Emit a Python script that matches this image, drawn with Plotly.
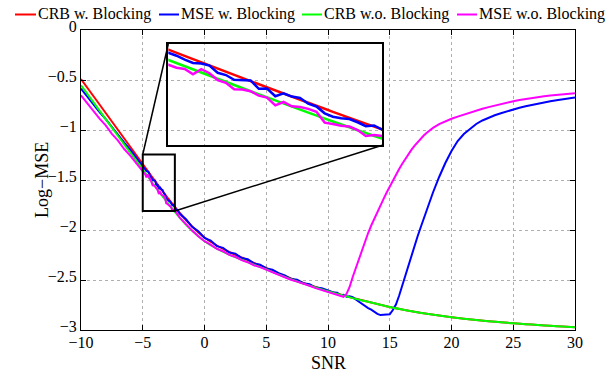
import numpy as np
import plotly.graph_objects as go

# ---------------- data ----------------
snr_crb = list(range(-10, 31))
crb_blocking = [-0.49, -0.66, -0.83, -1.00, -1.17, -1.34, -1.51, -1.675, -1.83, -1.965,
                -2.075, -2.155, -2.22, -2.275, -2.33, -2.38, -2.435, -2.485, -2.53, -2.57,
                -2.61, -2.645, -2.68, -2.71, -2.74, -2.77, -2.795, -2.818, -2.838, -2.856,
                -2.872, -2.887, -2.90, -2.912, -2.923, -2.933, -2.942, -2.95, -2.958, -2.965, -2.972]
crb_no_blocking = [-0.553, -0.722, -0.891, -1.06, -1.228, -1.396, -1.564, -1.727, -1.878, -2.008,
                   -2.112, -2.186, -2.246, -2.296, -2.347, -2.393, -2.445, -2.493, -2.536, -2.574,
                   -2.613, -2.647, -2.681, -2.71, -2.74, -2.77, -2.795, -2.818, -2.838, -2.856,
                   -2.872, -2.887, -2.90, -2.912, -2.923, -2.933, -2.942, -2.95, -2.958, -2.965, -2.972]

snr_mse = (list(np.round(np.arange(-10, -5.49, 0.5), 2)) +
           list(np.round(np.arange(-5.2, -2.19, 0.1), 2)) +
           list(np.round(np.arange(-2.0, 9.51, 0.5), 2)) +
           list(np.round(np.arange(10.0, 18.01, 0.25), 2)) +
           list(np.round(np.arange(18.5, 30.01, 0.5), 2)))

mse_blocking = [
    # -10 .. -5.5
    -0.586, -0.666, -0.737, -0.821, -0.892, -0.974, -1.045, -1.127, -1.198, -1.279,
    # -5.2 .. -2.2
    -1.326, -1.341, -1.358, -1.373, -1.394, -1.412, -1.415, -1.426, -1.465, -1.477,
    -1.503, -1.506, -1.506, -1.551, -1.550, -1.591, -1.576, -1.593, -1.600, -1.631,
    -1.646, -1.683, -1.701, -1.709, -1.714, -1.731, -1.752, -1.748, -1.773, -1.794, -1.801,
    # -2 .. 9.5
    -1.838, -1.893, -1.968, -2.012, -2.079, -2.106, -2.161, -2.178, -2.226, -2.236,
    -2.281, -2.293, -2.334, -2.346, -2.384, -2.398, -2.431, -2.454, -2.489, -2.496,
    -2.532, -2.541, -2.576, -2.583,
    # 10 .. 18
    -2.607, -2.612, -2.626, -2.628, -2.652, -2.648, -2.668, -2.662, -2.672, -2.695,
    -2.718, -2.742, -2.765, -2.781, -2.796, -2.818, -2.838, -2.851, -2.849, -2.852,
    -2.843, -2.800, -2.745, -2.660, -2.560, -2.450, -2.345, -2.245, -2.150, -2.065,
    -1.975, -1.885, -1.795,
    # 18.5 .. 30
    -1.625, -1.47, -1.33, -1.21, -1.11, -1.04, -0.985, -0.94, -0.905, -0.877,
    -0.853, -0.832, -0.812, -0.794, -0.777, -0.762, -0.748, -0.735, -0.723, -0.712,
    -0.702, -0.693, -0.684, -0.676]

mse_no_blocking = [
    # -10 .. -5.5
    -0.653, -0.733, -0.803, -0.887, -0.954, -1.039, -1.107, -1.190, -1.259, -1.341,
    # -5.2 .. -2.2
    -1.386, -1.405, -1.422, -1.438, -1.444, -1.473, -1.445, -1.467, -1.504, -1.519,
    -1.554, -1.555, -1.564, -1.588, -1.598, -1.640, -1.622, -1.645, -1.649, -1.659,
    -1.675, -1.733, -1.740, -1.750, -1.754, -1.773, -1.805, -1.799, -1.805, -1.829, -1.839,
    # -2 .. 9.5
    -1.876, -1.945, -2.006, -2.063, -2.112, -2.146, -2.188, -2.212, -2.249, -2.268,
    -2.301, -2.322, -2.352, -2.371, -2.397, -2.421, -2.449, -2.468, -2.497, -2.516,
    -2.541, -2.558, -2.581, -2.601,
    # 10 .. 18
    -2.622, -2.631, -2.641, -2.647, -2.662, -2.668, -2.640, -2.570, -2.470, -2.380,
    -2.285, -2.195, -2.110, -2.030, -1.955, -1.885, -1.818, -1.752, -1.688, -1.625,
    -1.564, -1.505, -1.448, -1.393, -1.340, -1.290, -1.243, -1.199, -1.158, -1.120,
    -1.086, -1.055, -1.027,
    # 18.5 .. 30
    -0.979, -0.942, -0.913, -0.888, -0.866, -0.845, -0.825, -0.806, -0.788, -0.771,
    -0.755, -0.74, -0.726, -0.713, -0.701, -0.69, -0.68, -0.671, -0.663, -0.655,
    -0.648, -0.642, -0.637, -0.632]

series_names = ["CRB w. Blocking", "MSE w. Blocking", "CRB w.o. Blocking", "MSE w.o. Blocking"]
series_colors = ["#ff0000", "#0000ff", "#00ff00", "#ff00ff"]

x_ticks = [-10, -5, 0, 5, 10, 15, 20, 25, 30]
y_ticks = [0, -0.5, -1, -1.5, -2, -2.5, -3]

# zoom window (main data coords) and the inset's own view
zoom_x = [-5.0, -2.4]
zoom_y = [-1.81, -1.245]
inset_view_y = [-1.855, -1.31]

# ---------------- layout constants ----------------
W, H = 616, 375
ML, MR, MT, MB = 81, 41, 30, 45
PW, PH = W - ML - MR, H - MT - MB
FONT = "Liberation Serif"

def px2paper_x(px):
    return (px - ML) / PW

def px2paper_y(py):
    return (H - MB - py) / PH

inset_px = dict(x0=168.3, x1=382.3, y0=44.0, y1=145.3)
inset_dom_x = [px2paper_x(inset_px["x0"]), px2paper_x(inset_px["x1"])]
inset_dom_y = [px2paper_y(inset_px["y1"]), px2paper_y(inset_px["y0"])]

xr = [-10, 30]
yr = [-3, 0]

def d2p_x(x):
    return (x - xr[0]) / (xr[1] - xr[0])

def d2p_y(y):
    return (y - yr[0]) / (yr[1] - yr[0])

fig = go.Figure()

data_sets = [(snr_crb, crb_blocking, "spline"),
             (snr_mse, mse_blocking, "linear"),
             (snr_crb, crb_no_blocking, "spline"),
             (snr_mse, mse_no_blocking, "linear")]

for (xs, ys, shape), name, col in zip(data_sets, series_names, series_colors):
    fig.add_trace(go.Scatter(x=xs, y=ys, mode="lines", name=name, showlegend=False,
                             line=dict(color=col, width=2, shape=shape),
                             xaxis="x", yaxis="y"))
for (xs, ys, shape), name, col in zip(data_sets, series_names, series_colors):
    fig.add_trace(go.Scatter(x=xs, y=ys, mode="lines", name=name, showlegend=False,
                             line=dict(color=col, width=2.5, shape=shape),
                             xaxis="x2", yaxis="y2"))

grid_col = "rgb(175,175,175)"
fig.update_layout(
    width=W, height=H,
    margin=dict(l=ML, r=MR, t=MT, b=MB, pad=0, autoexpand=False),
    paper_bgcolor="white", plot_bgcolor="rgba(0,0,0,0)",
    font=dict(family=FONT, size=16, color="black"),
    showlegend=False,
    xaxis=dict(range=xr, tickvals=x_ticks, showgrid=True, gridcolor=grid_col, griddash="dot",
               gridwidth=1, zeroline=False, showline=True, linecolor="black", linewidth=1,
               mirror="ticks", ticks="inside", ticklen=5, tickcolor="black",
               ticklabelstandoff=-2, automargin=False,
               tickfont=dict(size=16, family=FONT, color="black")),
    yaxis=dict(range=yr, tickvals=y_ticks, showgrid=True, gridcolor=grid_col, griddash="dot",
               gridwidth=1, zeroline=False, showline=True, linecolor="black", linewidth=1,
               mirror="ticks", ticks="inside", ticklen=5, tickcolor="black", automargin=False,
               ticklabelshift=-4,
               tickfont=dict(size=16, family=FONT, color="black")),
    xaxis2=dict(domain=inset_dom_x, anchor="y2", range=zoom_x, showgrid=False, zeroline=False,
                showticklabels=False, ticks="", showline=True, linecolor="black", linewidth=2,
                mirror=True, automargin=False),
    yaxis2=dict(domain=inset_dom_y, anchor="x2", range=inset_view_y, showgrid=False,
                zeroline=False, showticklabels=False, ticks="", showline=True,
                linecolor="black", linewidth=2, mirror=True, automargin=False),
)

# axis titles
fig.add_annotation(xref="paper", yref="paper", x=px2paper_x(328), y=px2paper_y(363),
                   text="SNR", showarrow=False, xanchor="center", yanchor="middle",
                   font=dict(size=18, family=FONT, color="black"))
fig.add_annotation(xref="paper", yref="paper", x=px2paper_x(42), y=px2paper_y(180),
                   text="Log\u2212MSE", textangle=-90, showarrow=False,
                   xanchor="center", yanchor="middle",
                   font=dict(size=18, family=FONT, color="black"))

# zoom rectangle on the main axes
fig.add_shape(type="rect", xref="x", yref="y", x0=zoom_x[0], x1=zoom_x[1],
              y0=zoom_y[0], y1=zoom_y[1], line=dict(color="black", width=2))
# connecting lines
fig.add_shape(type="line", xref="paper", yref="paper",
              x0=d2p_x(zoom_x[0]), y0=d2p_y(zoom_y[1]),
              x1=inset_dom_x[0], y1=inset_dom_y[1], line=dict(color="black", width=1.5))
fig.add_shape(type="line", xref="paper", yref="paper",
              x0=d2p_x(zoom_x[1]), y0=d2p_y(zoom_y[0]),
              x1=inset_dom_x[1], y1=inset_dom_y[0], line=dict(color="black", width=1.5))

# legend drawn along the top
legend_px = [(15, 36), (159, 179), (302, 322), (457, 477)]
legend_y = px2paper_y(14.5)
for (a, b), name, col in zip(legend_px, series_names, series_colors):
    fig.add_shape(type="line", xref="paper", yref="paper", x0=px2paper_x(a), x1=px2paper_x(b),
                  y0=legend_y, y1=legend_y, line=dict(color=col, width=2))
    fig.add_annotation(xref="paper", yref="paper", x=px2paper_x(b + 0.5), y=legend_y,
                       text=name, showarrow=False, xanchor="left", yanchor="middle",
                       font=dict(size=16, family=FONT, color="black"), borderpad=0)

fig.write_html("out.html")
